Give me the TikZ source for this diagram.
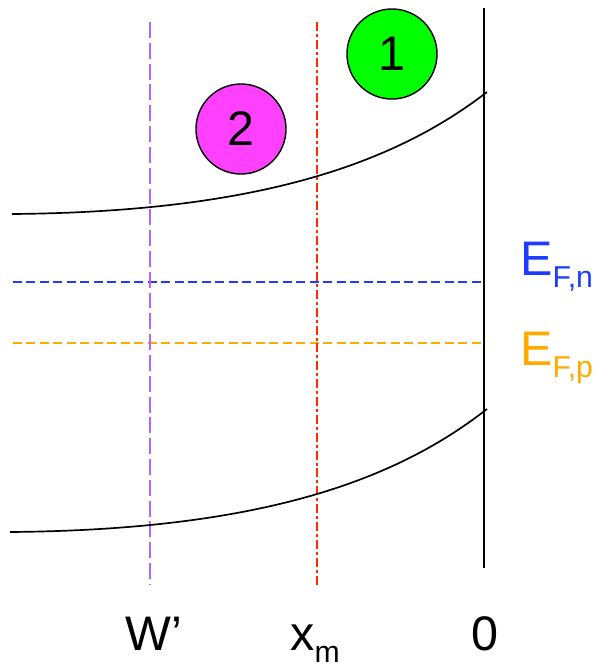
\documentclass[tikz,border=0pt]{standalone}
\usepackage{fontspec}
\setmainfont{Liberation Sans}
\usepackage{tikz}
\definecolor{lineViolet}{RGB}{180, 100, 255}
\definecolor{lineRed}{RGB}{255, 40, 0}
\definecolor{levelBlue}{RGB}{30, 60, 255}
\definecolor{levelOrange}{RGB}{255, 170, 0}
\definecolor{dotGreen}{RGB}{0, 255, 0}
\definecolor{dotMagenta}{RGB}{255, 64, 255}
\newcommand{\bigtxt}{\fontsize{34.5}{40}\selectfont}
\newcommand{\subtxt}[1]{\raisebox{-8.8pt}{\fontsize{21.5}{24}\selectfont #1}}

\begin{document}
\begin{tikzpicture}[x=0.025cm, y=-0.025cm,
    label/.style={inner sep=0pt, anchor=base west, font=\bigtxt},
    site/.style={circle, draw, line width=1pt, minimum size=2.25cm, inner sep=0pt, font=\bigtxt}]
        \useasboundingbox (0,0) rectangle (597,667);
        % Fermi levels
        \draw[levelBlue, line width=1.1pt, dash pattern=on 6.4pt off 3.2pt] (13,282) -- (484,282);
        \draw[levelOrange, line width=1.1pt, dash pattern=on 6.4pt off 3.2pt] (13,343) -- (484,343);
        % Markers
        \draw[lineViolet, line width=1.1pt, dash pattern=on 11.3pt off 3.5pt] (150,22) -- (150,585);
        \draw[lineRed, line width=1.1pt, dash pattern=on 6.4pt off 2.1pt on 2.1pt off 2.1pt] (317,22) -- (317,585);
        % Surface
        \draw[line width=1pt] (484,8) -- (484,568);
        % Bands
        \draw[line width=1.2pt] (12,214) .. controls (250,212) and (390,167) .. (487,92);
        \draw[line width=1.2pt] (10,532) .. controls (250,530) and (390,485) .. (487,409);
        % Sites
        \node[site, fill=dotGreen] (one) at (392,54) {1};
        \node[site, fill=dotMagenta] (two) at (241,129) {2};
        % Labels
        \node[label, levelBlue] (efn) at (520,275) {E\subtxt{F,n}};
        \node[label, levelOrange] (efp) at (520,365) {E\subtxt{F,p}};
        \node[label] (wp) at (125,650) {W’};
        \node[label] (xm) at (290,650) {x\subtxt{m}};
        \node[label, anchor=base] (zero) at (484.5,650) {0};
      \end{tikzpicture}
\end{document}
